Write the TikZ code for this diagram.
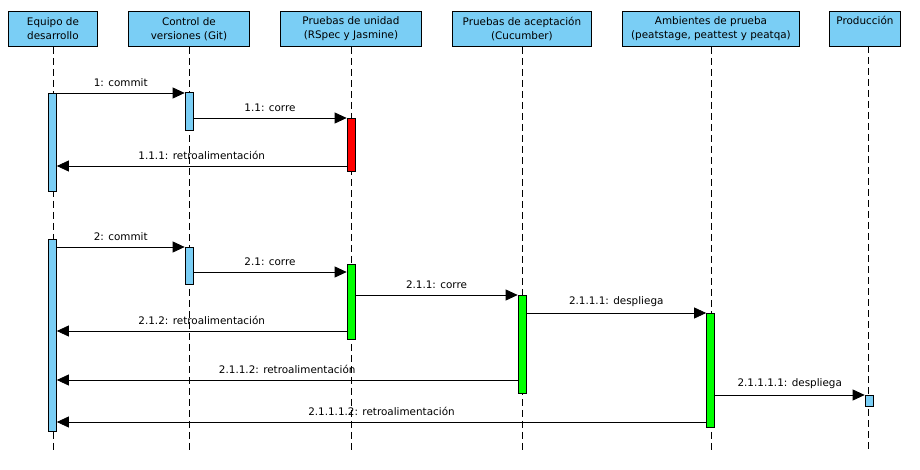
\documentclass[tikz,border=0pt]{standalone}
\usepackage{fontspec}
\setmainfont{DejaVu Sans}
\usetikzlibrary{arrows.meta}
\definecolor{lblue}{RGB}{122,206,245}
\definecolor{lgreen}{RGB}{0,255,0}
\definecolor{lred}{RGB}{255,0,0}
\tikzset{
  hdr/.style={draw=black, line width=0.9pt, fill=lblue, anchor=north west, minimum height=35pt, inner sep=0pt, align=center, font=\fontsize{10.4}{14}\selectfont},
  life/.style={line width=0.7pt, dash pattern=on 7pt off 4pt},
  actbar/.style={draw=black, line width=0.7pt, minimum width=8pt, inner sep=0pt, anchor=north},
  msg/.style={line width=0.8pt, -{Triangle[length=12pt, width=11pt]}},
  lbl/.style={midway, above=4.5pt, inner sep=1pt, font=\fontsize{10.4}{12}\selectfont}
}
\begin{document}
\begin{tikzpicture}[x=1pt, y=-1pt]
\useasboundingbox (0,0) rectangle (920,470);
% headers
\node[hdr, minimum width=89pt] (dev) at (8,11) {Equipo de\\desarrollo};
\node[hdr, minimum width=121pt] (git) at (128,11) {Control de\\versiones (Git)};
\node[hdr, minimum width=141pt] (unit) at (280,11) {Pruebas de unidad\\(RSpec y Jasmine)};
\node[hdr, minimum width=139pt] (acc) at (452,11) {Pruebas de aceptación\\(Cucumber)};
\node[hdr, minimum width=177pt] (amb) at (622,11) {Ambientes de prueba\\(peatstage, peattest y peatqa)};
\node[hdr, minimum width=71pt] (prod) at (829,11) {Producción\\\strut};
% lifeline ends
\coordinate (bot) at (0,450);
\draw[life] (dev.south) -- (dev.south |- bot);
\draw[life] (git.south) -- (git.south |- bot);
\draw[life] (unit.south) -- (unit.south |- bot);
\draw[life] (acc.south) -- (acc.south |- bot);
\draw[life] (amb.south) -- (amb.south |- bot);
\coordinate (prodl) at (868,46);
\draw[life] (prodl) -- (prodl |- bot);
% activation bars
\node[actbar, fill=lblue, minimum height=98pt] (d1) at (52.5,93) {};
\node[actbar, fill=lblue, minimum height=38pt] (g1) at (189,92) {};
\node[actbar, fill=lred, minimum height=53pt] (u1) at (351,118) {};
\node[actbar, fill=lblue, minimum height=192pt] (d2) at (52.5,239) {};
\node[actbar, fill=lblue, minimum height=37pt] (g2) at (189,247) {};
\node[actbar, fill=lgreen, minimum height=75pt] (u2) at (351,264) {};
\node[actbar, fill=lgreen, minimum height=98pt] (a1) at (522,295) {};
\node[actbar, fill=lgreen, minimum height=114pt] (e1) at (710.5,313) {};
\node[actbar, fill=lblue, minimum height=11pt] (p1) at (869,395) {};
% message rows
\coordinate (m1) at (0,93);
\coordinate (m2) at (0,118);
\coordinate (m3) at (0,166);
\coordinate (m4) at (0,247);
\coordinate (m5) at (0,272);
\coordinate (m6) at (0,295);
\coordinate (m7) at (0,313);
\coordinate (m8) at (0,331);
\coordinate (m9) at (0,380);
\coordinate (m10) at (0,395);
\coordinate (m11) at (0,422);
% messages
\draw[msg] (d1.east |- m1) -- (g1.west |- m1) node[lbl] {1: commit};
\draw[msg] (g1.east |- m2) -- (u1.west |- m2) node[lbl] {1.1: corre};
\draw[msg] (u1.west |- m3) -- (d1.east |- m3) node[lbl] {1.1.1: retroalimentación};
\draw[msg] (d2.east |- m4) -- (g2.west |- m4) node[lbl] {2: commit};
\draw[msg] (g2.east |- m5) -- (u2.west |- m5) node[lbl] {2.1: corre};
\draw[msg] (u2.east |- m6) -- (a1.west |- m6) node[lbl] {2.1.1: corre};
\draw[msg] (a1.east |- m7) -- (e1.west |- m7) node[lbl] {2.1.1.1: despliega};
\draw[msg] (u2.west |- m8) -- (d2.east |- m8) node[lbl] {2.1.2: retroalimentación};
\draw[msg] (a1.west |- m9) -- (d2.east |- m9) node[lbl] {2.1.1.2: retroalimentación};
\draw[msg] (e1.east |- m10) -- (p1.west |- m10) node[lbl] {2.1.1.1.1: despliega};
\draw[msg] (e1.west |- m11) -- (d2.east |- m11) node[lbl] {2.1.1.1.2: retroalimentación};
\end{tikzpicture}
\end{document}
